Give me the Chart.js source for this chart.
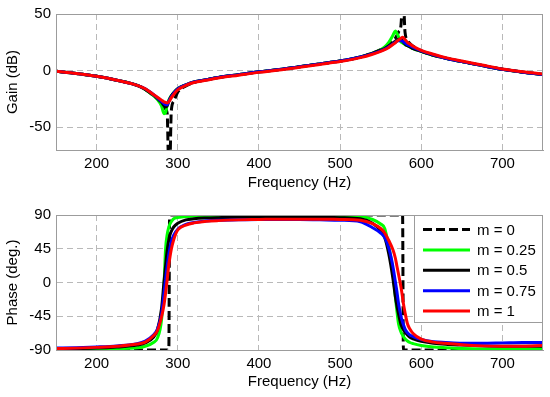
<!DOCTYPE html>
<html>
<head>
<meta charset="utf-8">
<script src="https://cdn.jsdelivr.net/npm/chart.js@4.4.1/dist/chart.umd.min.js"></script>
<style>
  body { margin: 0; background: #fff; }
  #wrap { position: relative; width: 550px; height: 397px; }
  canvas { position: absolute; left: 0; }
</style>
</head>
<body>
<div id="wrap">
  <canvas id="gainChart" width="550" height="198" style="top:0"></canvas>
  <canvas id="phaseChart" width="550" height="199" style="top:198px"></canvas>
</div>
<script>
// frequency points (Hz), shared by every curve
const freq = [150,175,200,225,250,260,270,275,280,283,285,287,289,290,292,295,300,310,320,335,350,375,400,425,450,475,500,525,540,550,555,560,565,568,570,572,575,577,578,580,583,586,590,600,615,630,650,675,700,725,750];

const seriesLabels = ["m = 0", "m = 0.25", "m = 0.5", "m = 0.75", "m = 1"];
const seriesColors = ["#000000", "#00ff00", "#000000", "#0000ff", "#ff0000"];

// gain (dB)
const gainM0   = [-0.5,-2.5,-5,-8.5,-13,-16.5,-22,-25,-29,-32,-34,-38,-90,-90,-36,-27,-19,-13.5,-10.5,-8,-6,-3.5,-1,1,3.5,6,8.5,12,15.5,18.5,20.5,23,26,28.5,31,34,40,60,60,34,27,24,21.5,17.5,13.5,11,8,4.5,1.2,-1.3,-3.3];
const gainM025 = [-0.5,-2.5,-5,-8.5,-13,-16.5,-22,-25.5,-31,-38,-37,-30,-26,-24.5,-22,-19.5,-16,-12.5,-10,-8,-6,-3.5,-1,1,3.5,6,8.5,12,15.5,18.5,21,25,31,35,33,30,25.5,24.5,24,23,22,21,19.5,17,13.5,11,8,4.5,1.2,-1.3,-3.3];
const gainM05  = [-0.5,-2.5,-5,-8.5,-13,-16.5,-21.5,-24.5,-28,-31,-32,-31,-27,-25,-22.5,-19.5,-16,-12.5,-10,-8,-6,-3.5,-1,1,3.5,6,8.5,12,15.5,18,19.5,22,24.5,26,27,27.8,27.5,26,25,23.5,22,21,19.5,17,13.5,11,8,4.5,1.2,-1.3,-3.3];
const gainM075 = [-0.5,-2.5,-5,-8.5,-13,-16,-21,-24,-27,-29,-30,-30,-27,-25.5,-23,-20,-16,-12.5,-10,-8,-6,-3.5,-1,1,3.5,6,8.5,12,15,17.5,19,21,23.5,25,26,26.5,26.5,26,25.5,24.5,23,22,20.5,17.5,14,11,8,4.5,1.2,-1.3,-3.3];
const gainM1   = [-0.5,-2.5,-5,-8.5,-13,-16,-21,-23.5,-26,-27.5,-28,-28.5,-27.5,-26.5,-24,-21,-17,-13,-10.5,-8.5,-6.5,-4,-1.5,0.5,3,5.5,8,11.5,14.5,17,18.5,20.5,23,24.5,26,27,28.5,29.4,29,27.5,25,23.5,21.5,18,14.5,11.5,8.5,5,1.5,-1,-3];

// phase (deg.)
const phaseM0   = [-90,-90,-90,-90,-90,-90,-90,-90,-90,-90,-90,-90,-90,90,90,90,90,90,90,90,90,90,90,90,90,90,90,90,90,90,90,90,90,90,90,90,90,90,-90,-90,-90,-90,-90,-90,-90,-90,-90,-90,-90,-90,-90];
const phaseM025 = [-89,-89,-88.5,-88,-87,-85,-80,-74,-50,-5,45,64,74,77,81,85,86.5,88,88.5,89,89,89,89,89,89,89,89,88,84,78,72,48,16,-18,-38,-55,-66,-70,-72,-75,-78,-80,-81.5,-84,-86,-87,-88,-88.5,-88.5,-88.5,-88];
const phaseM05  = [-88.5,-88,-87.5,-86,-83.5,-80.5,-73,-63,-35,0,22,43,57,62,68,74,79,83.5,85,86,86.5,87,87,87,87,87,86.5,85,79,69,60,38,6,-18,-31,-42,-56,-61,-63,-66,-70,-73,-75,-78.5,-81,-82.5,-83.5,-84.5,-85,-85,-85];
const phaseM075 = [-87.5,-87,-86,-84.5,-81.5,-78,-70,-62,-42,-15,4,22,38,44,54,63,71,77.5,80,82,83,83.5,84,84,84,83.5,83,81,73,66,60,46,22,2,-12,-28,-45,-53,-56,-62,-67,-70,-72,-76,-79,-80,-81,-81,-80.5,-80,-80];
const phaseM1   = [-88,-87.5,-86.5,-85,-82,-79.5,-71,-64,-46,-30,-14,4,24,31,44,57,70,76.5,79.5,81.5,82.5,83.5,84,84.5,84.5,84.5,84,83,78.5,72,66,56,44,33,22,11,-6,-20,-28,-40,-55,-62,-68,-75.5,-79.5,-81,-83,-84.5,-85,-85,-84];

const freqTicks = [200, 300, 400, 500, 600, 700];
const gainTicks = [-50, 0, 50];
const phaseTicks = [-90, -45, 0, 45, 90];

const font = { family: "'Liberation Sans', Arial, sans-serif", size: 15 };
const gridColor = "#b9b9b9";
const boxColor = "#9c9c9c";

function makeDatasets(series) {
  return series.map((vals, i) => ({
    label: seriesLabels[i],
    data: freq.map((f, k) => ({ x: f, y: vals[k] })),
    borderColor: seriesColors[i],
    borderWidth: 3,
    borderDash: i === 0 ? [9, 4] : [],
    pointRadius: 0,
    cubicInterpolationMode: "monotone",
    order: 5 - i
  }));
}

// MATLAB style box round the plot area
const boxPlugin = {
  id: "box",
  afterDraw(chart) {
    const { ctx, chartArea: a } = chart;
    ctx.save();
    ctx.strokeStyle = boxColor;
    ctx.lineWidth = 1;
    ctx.strokeRect(a.left + 0.5, a.top + 0.5, a.right - a.left - 1, a.bottom - a.top);
    ctx.restore();
  }
};

// legend box in the upper right of the phase plot
const legendPlugin = {
  id: "boxLegend",
  afterDatasetsDraw(chart) {
    const { ctx, chartArea: a } = chart;
    const w = 128, h = 107;
    const x = a.right - w - 1, y = a.top;
    ctx.save();
    ctx.fillStyle = "#fff";
    ctx.fillRect(x, y, w, h);
    ctx.strokeStyle = boxColor;
    ctx.lineWidth = 1;
    ctx.strokeRect(x + 0.5, y + 0.5, w, h);
    ctx.font = font.size + "px " + font.family;
    ctx.textBaseline = "middle";
    chart.data.datasets.forEach((ds, i) => {
      const ly = y + 14.5 + i * 20.4;
      ctx.beginPath();
      ctx.setLineDash(ds.borderDash);
      ctx.strokeStyle = ds.borderColor;
      ctx.lineWidth = 3;
      ctx.moveTo(x + 9, ly);
      ctx.lineTo(x + 56, ly);
      ctx.stroke();
      ctx.setLineDash([]);
      ctx.fillStyle = "#000";
      ctx.fillText(ds.label, x + 63, ly + 1);
    });
    ctx.restore();
  }
};

function makeChart(id, series, yMin, yMax, yTicks, yTitle, padTop, xHeight) {
  return new Chart(document.getElementById(id), {
    type: "line",
    data: { datasets: makeDatasets(series) },
    options: {
      responsive: false,
      animation: false,
      layout: { padding: { top: padTop, right: 7, left: 0, bottom: 0 } },
      plugins: { legend: { display: false }, tooltip: { enabled: false } },
      scales: {
        x: {
          type: "linear", min: 150, max: 750,
          afterBuildTicks: s => { s.ticks = freqTicks.map(v => ({ value: v })); },
          afterFit: s => { s.height = xHeight; },
          grid: { color: gridColor, drawTicks: false },
          border: { color: boxColor, dash: [6, 4] },
          ticks: { font, color: "#000", padding: 5, maxRotation: 0 },
          title: { display: true, text: "Frequency (Hz)", font, color: "#000", padding: { top: 0, bottom: 6 } }
        },
        y: {
          type: "linear", min: yMin, max: yMax,
          afterBuildTicks: s => { s.ticks = yTicks.map(v => ({ value: v })); },
          afterFit: s => { s.width = 56; },
          grid: { color: gridColor, drawTicks: false },
          border: { color: boxColor, dash: [6, 4] },
          ticks: { font, color: "#000", padding: 5 },
          title: { display: true, text: yTitle, font, color: "#000", padding: { top: 4, bottom: 0 } }
        }
      }
    },
    plugins: id === "phaseChart" ? [legendPlugin, boxPlugin] : [boxPlugin]
  });
}

makeChart("gainChart", [gainM0, gainM025, gainM05, gainM075, gainM1], -70, 50, gainTicks, "Gain (dB)", 14, 48);
makeChart("phaseChart", [phaseM0, phaseM025, phaseM05, phaseM075, phaseM1], -90, 90, phaseTicks, "Phase (deg.)", 17, 47);
</script>
</body>
</html>
